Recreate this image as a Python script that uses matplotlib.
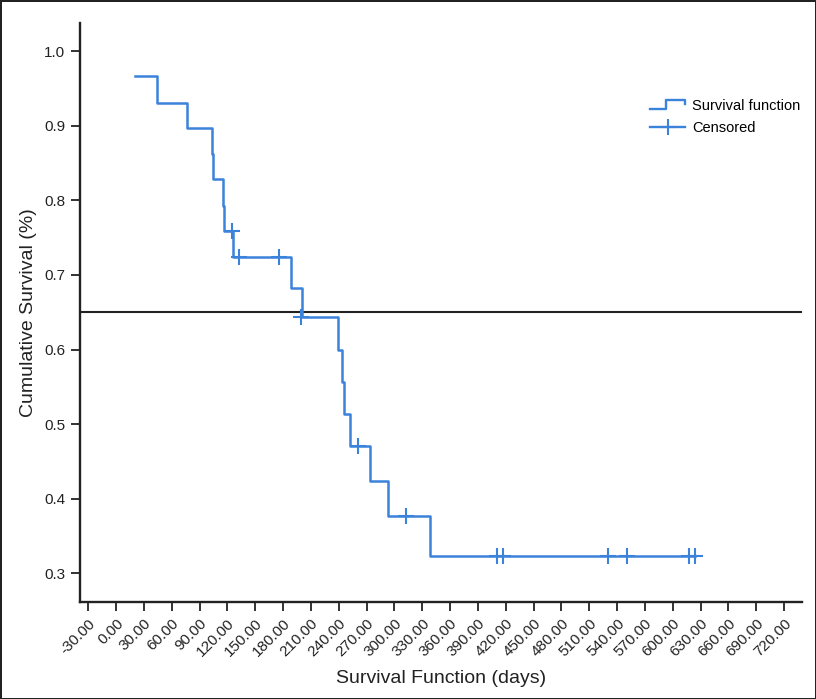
import matplotlib
matplotlib.use('Agg')
import matplotlib.pyplot as plt
from matplotlib.lines import Line2D
from matplotlib.legend_handler import HandlerBase

# event times (days) and survival after each event
event_days = [20.4, 44.4, 76.8, 103.1, 104.8, 115.2, 116.6, 125.7, 188.9, 200.4,
              239.2, 243.6, 246.0, 252.5, 273.4, 293.4, 338.1]
survival = [0.966, 0.931, 0.897, 0.862, 0.828, 0.793, 0.759, 0.724, 0.683, 0.643,
            0.600, 0.557, 0.514, 0.471, 0.424, 0.377, 0.323]

# censored patients
censor_days = [124.6, 132.8, 175.3, 199.7, 261.1, 312.5,
               410.3, 416.8, 530.3, 551.1, 617.6, 624.4]
censor_surv = [0.759, 0.724, 0.724, 0.643, 0.471, 0.377,
               0.323, 0.323, 0.323, 0.323, 0.323, 0.323]

ref_level = 0.65
x_ticks = list(range(-30, 721, 30))
y_ticks = [0.3, 0.4, 0.5, 0.6, 0.7, 0.8, 0.9, 1.0]

blue = '#3b82db'
tick_font = 'Liberation Sans'
label_font = ['Liberation Sans Narrow', 'Liberation Sans']


class StepHandler(HandlerBase):
    def create_artists(self, legend, orig_handle, xdescent, ydescent,
                       width, height, fontsize, trans):
        x0 = -xdescent
        y0 = -ydescent
        xs = [x0, x0 + width * 0.45, x0 + width * 0.45, x0 + width, x0 + width]
        ys = [y0 + height * 0.1, y0 + height * 0.1, y0 + height * 0.95,
              y0 + height * 0.95, y0 + height * 0.6]
        ln = Line2D(xs, ys, color=orig_handle.get_color(),
                    lw=orig_handle.get_linewidth())
        ln.set_transform(trans)
        return [ln]


fig = plt.figure(figsize=(8.16, 6.99), dpi=100)
fig.patch.set_edgecolor('#222222')
fig.patch.set_linewidth(2)
ax = fig.add_axes([0.098, 0.1392, 0.8845, 0.8283])

xs = list(event_days) + [censor_days[-1]]
ys = list(survival) + [survival[-1]]
ax.step(xs, ys, where='post', color=blue, lw=1.8, zorder=3)
ax.plot(censor_days, censor_surv, linestyle='none', marker='+',
        markersize=11, markeredgewidth=1.5, color=blue, zorder=4)

ax.axhline(ref_level, color='#222222', lw=1.5, zorder=2)

ax.set_xlim(-38.9, 739)
ax.set_ylim(0.262, 1.038)
ax.set_xticks(x_ticks)
ax.set_xticklabels(['%.2f' % v for v in x_ticks], rotation=45, ha='right',
                   rotation_mode='anchor', fontsize=11, family=tick_font,
                   color='#222222')
ax.set_yticks(y_ticks)
ax.set_yticklabels(['%.1f' % v for v in y_ticks], fontsize=11,
                   family=tick_font, color='#222222')
ax.tick_params(axis='both', direction='out', length=6.5, width=1.3,
               color='#222222')
ax.tick_params(axis='y', pad=4)
ax.tick_params(axis='x', pad=4)

for side in ['top', 'right']:
    ax.spines[side].set_visible(False)
for side in ['left', 'bottom']:
    ax.spines[side].set_linewidth(1.7)
    ax.spines[side].set_color('#222222')

ax.set_xlabel('Survival Function (days)', fontsize=14, family=label_font,
              color='#222222', labelpad=8)
ax.set_ylabel('Cumulative Survival (%)', fontsize=14, family=label_font,
              color='#222222', labelpad=5)

h_step = Line2D([], [], color=blue, lw=1.7)
h_cens = Line2D([], [], color=blue, lw=1.7, marker='+', markersize=12,
                markeredgewidth=1.5)
ax.legend([h_step, h_cens], ['Survival function', 'Censored'],
          handler_map={h_step: StepHandler()},
          loc='upper left', bbox_to_anchor=(0.78, 0.881), frameon=False,
          borderpad=0, handlelength=2.4, handletextpad=0.45, labelspacing=0.55,
          prop={'family': tick_font, 'size': 10.5})

fig.savefig('out.png', dpi=100)
